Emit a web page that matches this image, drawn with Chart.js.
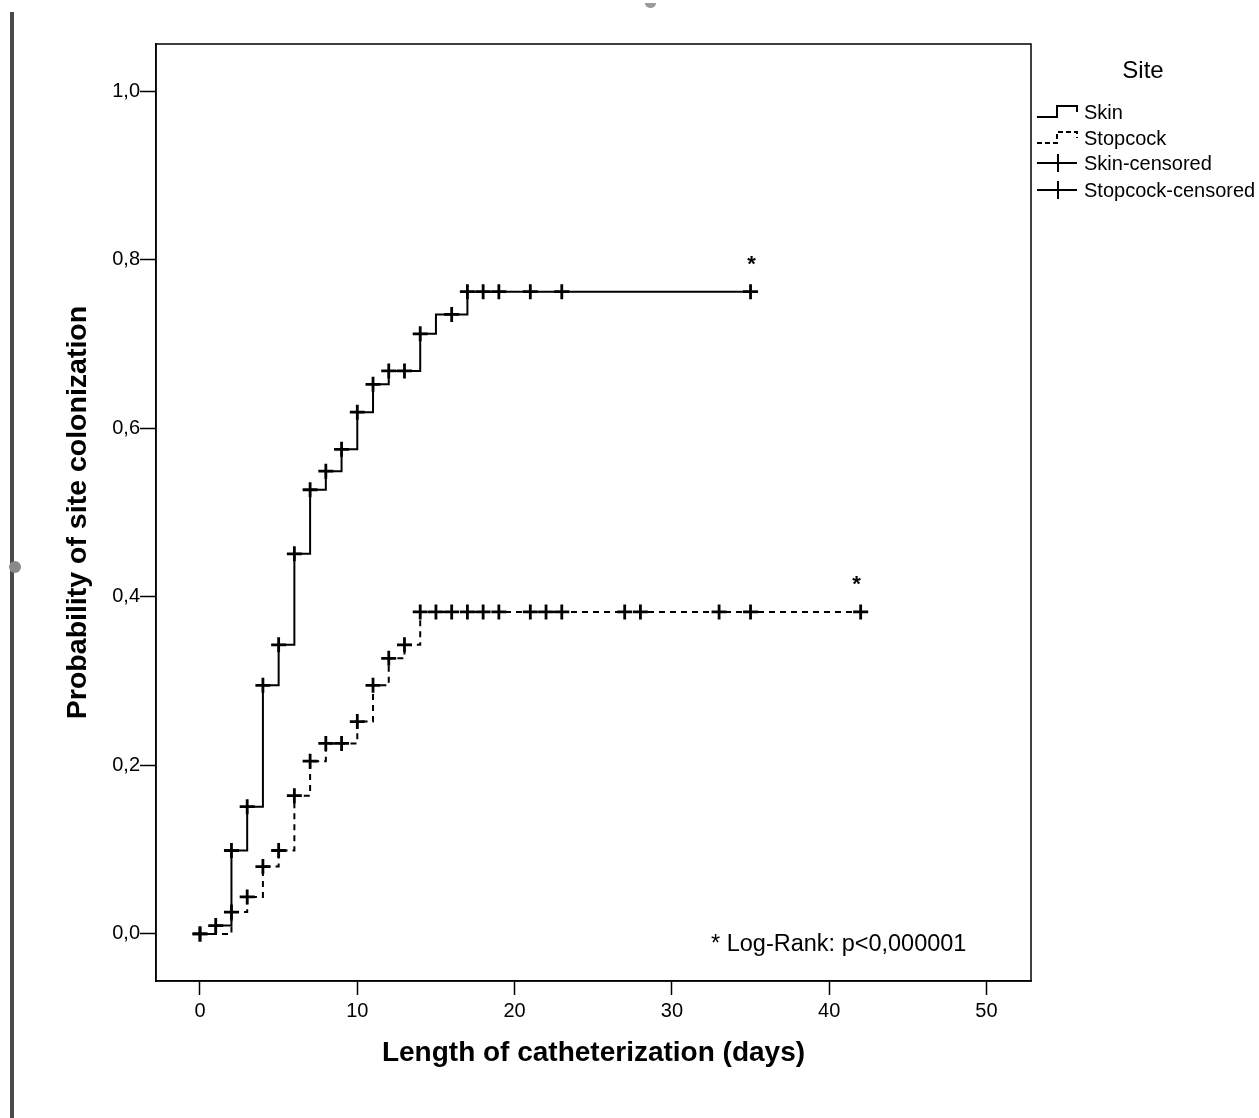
<!DOCTYPE html>
<html>
<head>
<meta charset="utf-8">
<script src="https://cdn.jsdelivr.net/npm/chart.js@4.4.1/dist/chart.umd.min.js"></script>
<style>
  html, body { margin: 0; padding: 0; background: #fff; }
  #wrap { position: relative; width: 1259px; height: 1118px; overflow: hidden; }
  #bar { position: absolute; left: 10px; top: 12px; width: 4px; height: 1106px; background: #4a4a4a; }
  #dot { position: absolute; left: 9px; top: 561px; width: 12px; height: 12px; border-radius: 50%; background: #8a8a8a; }
  #topmark { position: absolute; left: 645px; top: 3px; width: 11px; height: 5px; border-radius: 0 0 6px 6px; background: #9a9a9a; }
  canvas { position: absolute; left: 0; top: 0; }
</style>
</head>
<body>
<div id="wrap">
  <canvas id="km" width="1259" height="1118"></canvas>
  <div id="bar"></div>
  <div id="dot"></div>
  <div id="topmark"></div>
</div>
<script>
// --- datos ---
const skinDays  = [0, 1, 2, 3, 4, 5, 6, 7, 8, 9, 10, 11, 12, 14, 15, 17, 35];
const skinProb  = [0, 0.010, 0.099, 0.151, 0.295, 0.343, 0.451, 0.527, 0.549, 0.575, 0.619, 0.652, 0.668, 0.712, 0.735, 0.762, 0.762];
const skinCensoredDays = [0, 1, 2, 3, 4, 5, 6, 7, 8, 9, 10, 11, 12, 13, 14, 16, 17, 18, 19, 21, 23, 35];

const stopDays  = [0, 2, 3, 4, 5, 6, 7, 8, 10, 11, 12, 13, 14, 42];
const stopProb  = [0, 0.026, 0.044, 0.080, 0.099, 0.164, 0.205, 0.226, 0.252, 0.295, 0.327, 0.343, 0.382, 0.382];
const stopCensoredDays = [0, 2, 3, 4, 5, 6, 7, 8, 9, 10, 11, 12, 13, 14, 15, 16, 17, 18, 19, 21, 22, 23, 27, 28, 33, 35, 42];

const xTickValues = [0, 10, 20, 30, 40, 50];
const yTickValues = [0, 0.2, 0.4, 0.6, 0.8, 1.0];
const yTickLabels = ['0,0', '0,2', '0,4', '0,6', '0,8', '1,0'];

const legendTitle = 'Site';
const legendLabels = ['Skin', 'Stopcock', 'Skin-censored', 'Stopcock-censored'];
const noteText = '* Log-Rank: p<0,000001';

const FONT = '"Liberation Sans", Arial, Helvetica, sans-serif';

// valor de la curva escalonada en un día dado
function stepValue(days, probs, t) {
    let v = probs[0];
    for (let i = 0; i < days.length; i++) {
        if (days[i] <= t) v = probs[i];
    }
    return v;
}

const toPoints = (days, probs) => days.map((d, i) => ({ x: d, y: probs[i] }));
const censorPoints = (cDays, days, probs) => cDays.map(d => ({ x: d, y: stepValue(days, probs, d) }));

// marco, leyenda, asteriscos y nota
const decorPlugin = {
    id: 'decor',
    afterDraw(chart) {
        const { ctx, chartArea: a, scales } = chart;
        ctx.save();
        ctx.strokeStyle = '#000';
        ctx.lineWidth = 1.5;
        ctx.strokeRect(a.left, a.top, a.right - a.left, a.bottom - a.top);

        // asteriscos sobre el último punto de cada curva
        ctx.fillStyle = '#000';
        ctx.font = 'bold 22px ' + FONT;
        ctx.textAlign = 'center';
        ctx.textBaseline = 'middle';
        const sx = scales.x.getPixelForValue(skinDays[skinDays.length - 1]);
        const sy = scales.y.getPixelForValue(skinProb[skinProb.length - 1]);
        ctx.fillText('*', sx + 1, sy - 27);
        const tx = scales.x.getPixelForValue(stopDays[stopDays.length - 1]);
        const ty = scales.y.getPixelForValue(stopProb[stopProb.length - 1]);
        ctx.fillText('*', tx - 4, ty - 27);

        // nota Log-Rank
        ctx.font = '23.5px ' + FONT;
        ctx.textAlign = 'left';
        ctx.fillText(noteText, 711, 945);

        // leyenda
        const lx = a.right + 6;
        ctx.font = '24px ' + FONT;
        ctx.textAlign = 'center';
        ctx.fillText(legendTitle, 1143, 71);
        ctx.font = '20px ' + FONT;
        ctx.textAlign = 'left';
        const rows = [112, 138, 163, 190];
        ctx.lineWidth = 2;
        rows.forEach((ry, i) => {
            ctx.beginPath();
            if (i < 2) {
                ctx.setLineDash(i === 1 ? [5, 3] : []);
                ctx.moveTo(lx, ry + 5);
                ctx.lineTo(lx + 20, ry + 5);
                ctx.lineTo(lx + 20, ry - 6);
                ctx.lineTo(lx + 40, ry - 6);
                ctx.lineTo(lx + 40, ry);
            } else {
                ctx.setLineDash([]);
                ctx.moveTo(lx, ry);
                ctx.lineTo(lx + 40, ry);
                ctx.moveTo(lx + 21, ry - 9);
                ctx.lineTo(lx + 21, ry + 9);
            }
            ctx.stroke();
            ctx.fillText(legendLabels[i], lx + 47, ry + 1);
        });
        ctx.restore();
    }
};

new Chart(document.getElementById('km'), {
    type: 'line',
    data: {
        datasets: [
            {
                label: 'Skin',
                data: toPoints(skinDays, skinProb),
                borderColor: '#000',
                borderWidth: 2,
                stepped: 'before',
                pointRadius: 0,
                fill: false
            },
            {
                label: 'Stopcock',
                data: toPoints(stopDays, stopProb),
                borderColor: '#000',
                borderWidth: 2,
                borderDash: [6, 5],
                stepped: 'before',
                pointRadius: 0,
                fill: false
            },
            {
                label: 'Skin-censored',
                data: censorPoints(skinCensoredDays, skinDays, skinProb),
                showLine: false,
                pointStyle: 'cross',
                pointRadius: 7.5,
                pointBorderWidth: 2.8,
                borderColor: '#000'
            },
            {
                label: 'Stopcock-censored',
                data: censorPoints(stopCensoredDays, stopDays, stopProb),
                showLine: false,
                pointStyle: 'cross',
                pointRadius: 7.5,
                pointBorderWidth: 2.8,
                borderColor: '#000'
            }
        ]
    },
    options: {
        responsive: false,
        animation: false,
        devicePixelRatio: 1,
        layout: { padding: { top: 44, right: 228, left: 0, bottom: 0 } },
        plugins: {
            legend: { display: false },
            tooltip: { enabled: false }
        },
        scales: {
            x: {
                type: 'linear',
                min: -2.797,
                max: 52.83,
                afterFit: s => { s.height = 137; },
                afterBuildTicks: s => { s.ticks = xTickValues.map(v => ({ value: v })); },
                grid: { drawOnChartArea: false, drawTicks: true, tickLength: 14, tickWidth: 1.5, tickColor: '#000' },
                border: { display: true, color: '#000', width: 1.5 },
                ticks: { color: '#000', padding: 4, font: { family: FONT, size: 20 }, callback: v => String(v) },
                title: {
                    display: true,
                    text: 'Length of catheterization (days)',
                    color: '#000',
                    font: { family: FONT, size: 28, weight: 'bold' },
                    padding: { top: 0, bottom: 48 }
                }
            },
            y: {
                type: 'linear',
                min: -0.0558,
                max: 1.0558,
                afterFit: s => { s.width = 156; },
                afterBuildTicks: s => { s.ticks = yTickValues.map(v => ({ value: v })); },
                grid: { drawOnChartArea: false, drawTicks: true, tickLength: 16, tickWidth: 1.5, tickColor: '#000' },
                border: { display: true, color: '#000', width: 1.5 },
                ticks: {
                    color: '#000',
                    padding: 0,
                    font: { family: FONT, size: 20 },
                    callback: v => yTickLabels[yTickValues.findIndex(t => Math.abs(t - v) < 1e-6)]
                },
                title: {
                    display: true,
                    text: 'Probability of site colonization',
                    color: '#000',
                    font: { family: FONT, size: 28.5, weight: 'bold' },
                    padding: { top: 61, bottom: 0 }
                }
            }
        }
    },
    plugins: [decorPlugin]
});
</script>
</body>
</html>
